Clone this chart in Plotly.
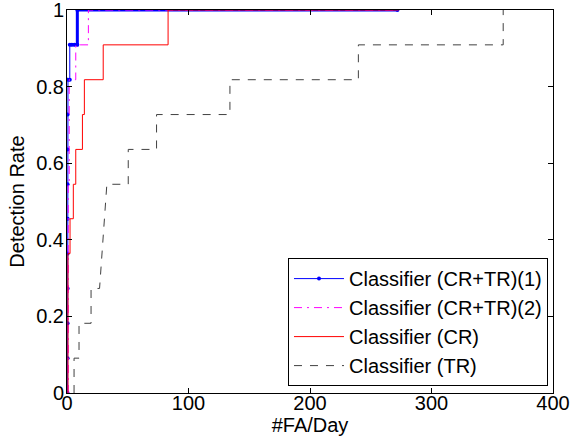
import plotly.graph_objects as go

# Detection-rate curves (x: #FA/Day, y: detection rate)
crtr1_x = [0.5, 0.5, 0.5, 0.5, 0.5, 0.5, 0.5, 0.5, 0.5, 0.8, 2.3, 2.3, 4.0, 6.0, 8.5, 8.5, 272]
crtr1_y = [0.0, 0.091, 0.182, 0.273, 0.364, 0.455, 0.545, 0.636, 0.727, 0.818, 0.818, 0.909, 0.909, 0.909, 0.909, 1.0, 1.0]

crtr2_x = [1.0, 1.0, 1.8, 1.8, 7.2, 7.2, 17.6, 17.6, 272]
crtr2_y = [0.0, 0.545, 0.545, 0.818, 0.818, 0.909, 0.909, 1.0, 1.0]

cr_x = [0.8, 0.8, 2.5, 2.5, 5.2, 5.2, 7.2, 7.2, 12.7, 12.7, 14.3, 14.3, 29.8, 29.8, 83.2, 83.2, 273]
cr_y = [0.0, 0.364, 0.364, 0.455, 0.455, 0.545, 0.545, 0.636, 0.636, 0.727, 0.727, 0.818, 0.818, 0.909, 0.909, 1.0, 1.0]

tr_x = [5.8, 5.8, 9.9, 9.9, 19.8, 19.8, 26.8, 32.8, 50.4, 50.4, 73.7, 73.7, 134.1, 134.1, 239.8, 239.8, 359, 359]
tr_y = [0.0, 0.091, 0.091, 0.182, 0.182, 0.273, 0.273, 0.545, 0.545, 0.636, 0.636, 0.727, 0.727, 0.818, 0.818, 0.909, 0.909, 1.0]

names = ["Classifier (CR+TR)(1)", "Classifier (CR+TR)(2)", "Classifier (CR)", "Classifier (TR)"]

x_ticks = [0, 100, 200, 300, 400]
y_ticks = [0, 0.2, 0.4, 0.6, 0.8, 1]
y_tick_text = ["0", "0.2", "0.4", "0.6", "0.8", "1"]

FONT = "Liberation Sans, Arial"

fig = go.Figure()

# thick dense-marker band of the first classifier (drawn first, underneath)
fig.add_trace(go.Scatter(x=crtr1_x[11:], y=crtr1_y[11:], mode="lines",
                         line=dict(color="#0000FF", width=3), showlegend=False,
                         hoverinfo="skip"))

fig.add_trace(go.Scatter(x=crtr1_x, y=crtr1_y, mode="lines+markers", name=names[0],
                         legendgroup="a",
                         line=dict(color="#0000FF", width=1),
                         marker=dict(color="#0000FF", size=4)))
fig.add_trace(go.Scatter(x=crtr2_x, y=crtr2_y, mode="lines", name=names[1],
                         legendgroup="b",
                         line=dict(color="#FF00FF", width=1, dash="8px,5px,2px,5px")))
fig.add_trace(go.Scatter(x=cr_x, y=cr_y, mode="lines", name=names[2],
                         legendgroup="c",
                         line=dict(color="#FF0000", width=1)))
fig.add_trace(go.Scatter(x=tr_x, y=tr_y, mode="lines", name=names[3],
                         legendgroup="d",
                         line=dict(color="#404040", width=1, dash="8px,8px")))

axis_common = dict(showline=True, linecolor="black", linewidth=1, mirror="ticks",
                   ticks="inside", ticklen=5, tickcolor="black", tickwidth=1,
                   showgrid=False, zeroline=False, automargin=False,
                   ticklabeloverflow="allow",
                   tickfont=dict(family=FONT, size=20, color="black"))

fig.update_layout(
    width=572, height=445,
    margin=dict(l=67, r=19, t=10, b=52),
    paper_bgcolor="white", plot_bgcolor="white",
    font=dict(family=FONT, size=20, color="black"),
    xaxis=dict(range=[0, 400], tickvals=x_ticks, ticklabelstandoff=-8,
               title=dict(text="#FA/Day", standoff=0,
                          font=dict(family=FONT, size=20, color="black")),
               **axis_common),
    yaxis=dict(range=[0, 1], tickvals=y_ticks, ticktext=y_tick_text,
               ticklabelstandoff=-2,
               title=dict(text="Detection Rate", standoff=6,
                          font=dict(family=FONT, size=20, color="black")),
               **axis_common),
    legend=dict(x=0.9897, y=0.018, xanchor="right", yanchor="bottom",
                bgcolor="white", bordercolor="black", borderwidth=1,
                font=dict(family=FONT, size=20, color="black"),
                itemwidth=50, tracegroupgap=0),
    showlegend=True,
)

fig.write_html("out.html", config={"displayModeBar": False},
               post_script="document.body.style.margin='0px';")
